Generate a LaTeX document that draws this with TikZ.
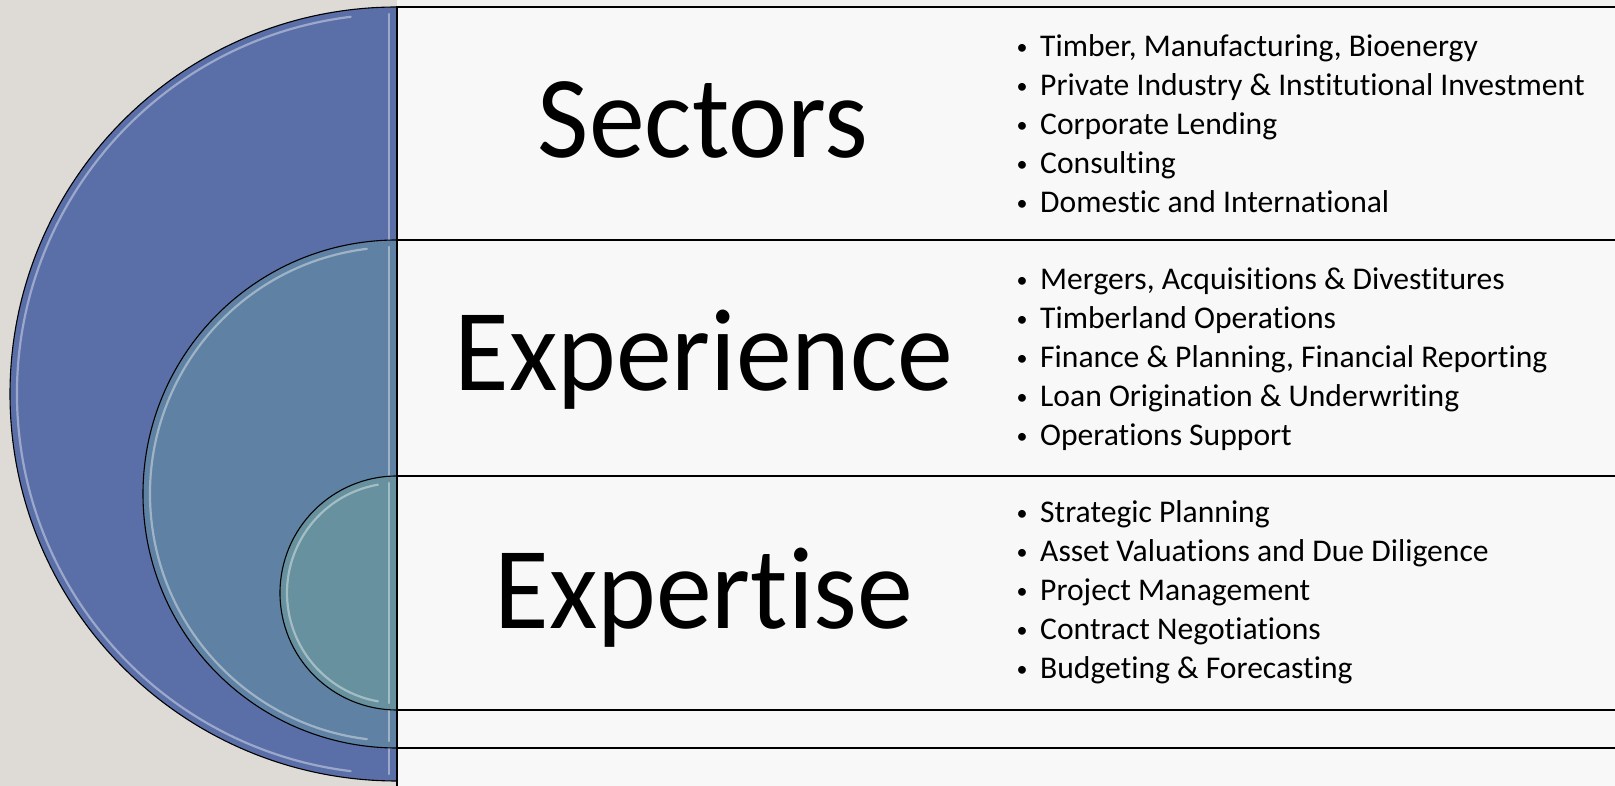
\documentclass[tikz,border=0pt]{standalone}
\usepackage{fontspec}
\setmainfont[Ligatures={NoCommon,NoContextual}]{Carlito}
\newfontfamily\titlefont[FakeStretch=0.955, Ligatures={NoCommon,NoContextual}]{Carlito}
\definecolor{bg}{HTML}{DEDBD6}
\definecolor{topstrip}{HTML}{F2F2F1}
\definecolor{bandfill}{HTML}{F8F8F8}
\definecolor{cbig}{HTML}{5A6EA8}
\definecolor{cmid}{HTML}{5F81A3}
\definecolor{csmall}{HTML}{67919E}
\begin{document}
\begin{tikzpicture}[x=1pt,y=1pt,
  band/.style={draw=black, line width=1.5pt, fill=bandfill},
  half/.style={draw=black, line width=1.1pt},
  hl/.style={draw=white, line width=2.2pt, opacity=0.4, line cap=round},
  title/.style={font=\titlefont\fontsize{117}{120}\selectfont, anchor=base, inner sep=0pt},
  item/.style={font=\fontsize{31.6}{39}\selectfont, anchor=base west, inner sep=0pt},
  dot/.style={font=\fontsize{22}{39}\selectfont, anchor=base, inner sep=0pt}]
\useasboundingbox (0,0) rectangle (1615,786);
\fill[bg] (0,0) rectangle (1615,786);
\fill[topstrip] (397,779) rectangle (1615,786);
% bands
\path[band] (397,546) rectangle (1625,779);
\path[band] (397,310) rectangle (1625,546);
\path[band] (397,76) rectangle (1625,310);
\path[band] (397,38) rectangle (1625,76);
\path[band] (397,-10) rectangle (1625,38);
% big half disc
\path[half, fill=cbig] (397,779) arc[start angle=90, end angle=270, radius=387] -- cycle;
\draw[hl] (397,392) ++(97:380) arc[start angle=97, end angle=263, radius=380];
\draw[hl] (389,772) -- (389,12);
% middle half disc
\path[half, fill=cmid] (397,546) arc[start angle=90, end angle=270, radius=254] -- cycle;
\draw[hl] (397,292) ++(97:247) arc[start angle=97, end angle=263, radius=247];
\draw[hl] (389,539) -- (389,45);
% small half disc
\path[half, fill=csmall] (397,310) arc[start angle=90, end angle=270, radius=117] -- cycle;
\draw[hl] (397,193) ++(100:110) arc[start angle=100, end angle=260, radius=110];
\draw[hl] (389,303) -- (389,83);
% divider
\draw[line width=1.8pt] (397,0) -- (397,779);
% titles
\node[title] (t1) at (703,628) {Sectors};
\node[title] (t2) at (704,395) {Experience};
\node[title] (t3) at (704,157) {Expertise};
% bullets
\foreach \t [count=\i from 0] in {{Timber, Manufacturing, Bioenergy},{Private Industry \& Institutional Investment},{Corporate Lending},{Consulting},{Domestic and International}}
  {\node[dot] (sb\i) at (1022,731-39*\i) {•};
   \node[item] (s\i) at (1040,729-39*\i) {\t};}
\foreach \t [count=\i from 0] in {{Mergers, Acquisitions \& Divestitures},{Timberland Operations},{Finance \& Planning, Financial Reporting},{Loan Origination \& Underwriting},{Operations Support}}
  {\node[dot] (eb\i) at (1022,498-39*\i) {•};
   \node[item] (e\i) at (1040,496-39*\i) {\t};}
\foreach \t [count=\i from 0] in {{Strategic Planning},{Asset Valuations and Due Diligence},{Project Management},{Contract Negotiations},{Budgeting \& Forecasting}}
  {\node[dot] (xb\i) at (1022,265-39*\i) {•};
   \node[item] (x\i) at (1040,263-39*\i) {\t};}
\end{tikzpicture}
\end{document}
